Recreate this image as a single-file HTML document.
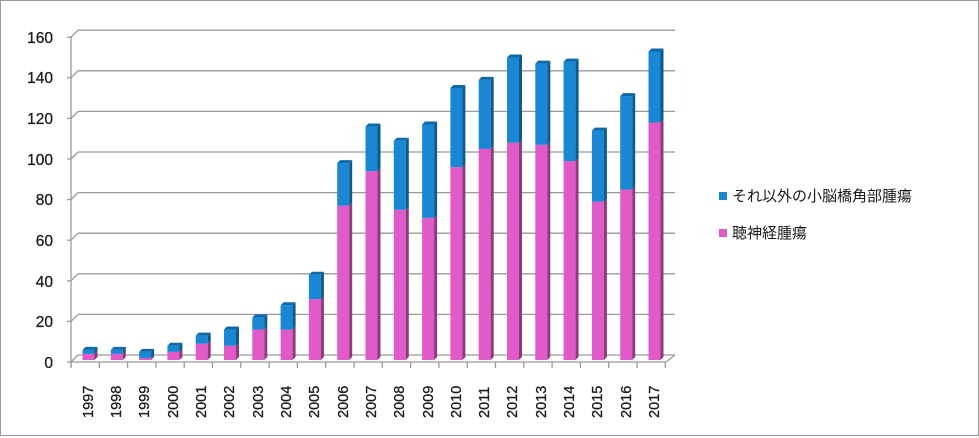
<!DOCTYPE html>
<html><head><meta charset="utf-8"><style>
body{margin:0;background:#fff}
svg{display:block}
text{font-family:"Liberation Sans","Noto Sans CJK JP",sans-serif;fill:#1a1a1a}
</style></head><body>
<svg id="s" width="979" height="438" xmlns="http://www.w3.org/2000/svg">
<rect x="0.5" y="0.5" width="978" height="435" fill="#fff" stroke="#9a9a9a"/>
<g id="grid" stroke="#9a9a9a" stroke-width="1.3" fill="none"></g>
<g id="bars"></g>
<g font-size="15.5" text-anchor="end" stroke="#1a1a1a" stroke-width="0.3">
<text x="53" y="43">160</text><text x="53" y="83">140</text><text x="53" y="124">120</text>
<text x="53" y="165">100</text><text x="53" y="205">80</text><text x="53" y="246">60</text>
<text x="53" y="287">40</text><text x="53" y="327">20</text><text x="53" y="368">0</text>
</g>
<g font-size="14.5" id="xl" stroke="#1a1a1a" stroke-width="0.3">
<text transform="translate(93,418) rotate(-90)">1997</text>
<text transform="translate(121,418) rotate(-90)">1998</text>
<text transform="translate(149,418) rotate(-90)">1999</text>
<text transform="translate(178,418) rotate(-90)">2000</text>
<text transform="translate(206,418) rotate(-90)">2001</text>
<text transform="translate(234,418) rotate(-90)">2002</text>
<text transform="translate(263,418) rotate(-90)">2003</text>
<text transform="translate(291,418) rotate(-90)">2004</text>
<text transform="translate(319,418) rotate(-90)">2005</text>
<text transform="translate(348,418) rotate(-90)">2006</text>
<text transform="translate(376,418) rotate(-90)">2007</text>
<text transform="translate(404,418) rotate(-90)">2008</text>
<text transform="translate(433,418) rotate(-90)">2009</text>
<text transform="translate(461,418) rotate(-90)">2010</text>
<text transform="translate(489,418) rotate(-90)">2011</text>
<text transform="translate(517,418) rotate(-90)">2012</text>
<text transform="translate(546,418) rotate(-90)">2013</text>
<text transform="translate(574,418) rotate(-90)">2014</text>
<text transform="translate(602,418) rotate(-90)">2015</text>
<text transform="translate(631,418) rotate(-90)">2016</text>
<text transform="translate(659,418) rotate(-90)">2017</text>
</g>
<rect x="719" y="192" width="8" height="8" fill="#1a87d4"/>
<text x="732" y="201" font-size="15">それ以外の小脳橋角部腫瘍</text>
<rect x="719" y="229" width="8" height="8" fill="#e05ac8"/>
<text x="732" y="238" font-size="15">聴神経腫瘍</text>
</svg>
<script>
var NS="http://www.w3.org/2000/svg";
function el(p,t,a){var e=document.createElementNS(NS,t);for(var k in a)e.setAttribute(k,a[k]);p.appendChild(e);return e;}
var g=document.getElementById('grid');
for(var k=0;k<=8;k++){var y=355-40.6*k;
 el(g,'line',{x1:78,y1:y,x2:675,y2:y});
 el(g,'line',{x1:71,y1:y+7,x2:78,y2:y});
 el(g,'line',{x1:67,y1:y+7,x2:71,y2:y+7});}
el(g,'line',{x1:71,y1:36,x2:71,y2:367});
el(g,'line',{x1:71,y1:362,x2:666,y2:362});
el(g,'line',{x1:666,y1:362,x2:675,y2:355});
for(var i=0;i<=21;i++){var x=71+28.3*i;el(g,'line',{x1:x,y1:362,x2:x,y2:368});}
var d=[[3,5],[3,5],[1,4],[4,7],[8,12],[7,15],[15,21],[15,27],[30,42],[76,97],[93,115],[74,108],[70,116],[95,134],[104,138],[107,149],[106,146],[98,147],[78,113],[84,130],[117,152]];
var b=document.getElementById('bars'),s=2.03,base=360,w=12,dp=3;
d.forEach(function(v,i){var cx=88.5+28.3*i,x=cx-w/2;
 var yp=base-v[0]*s,yt=base-v[1]*s;
 el(b,'rect',{x:x,y:yp,width:w,height:base-yp,fill:'#e05ac8'});
 el(b,'polygon',{points:[x+w,base,x+w+dp,base-dp,x+w+dp,yp-dp,x+w,yp].join(' '),fill:'#8e3a7e'});
 el(b,'rect',{x:x,y:yt,width:w,height:yp-yt,fill:'#1a87d4'});
 el(b,'polygon',{points:[x+w,yp,x+w+dp,yp-dp,x+w+dp,yt-dp,x+w,yt].join(' '),fill:'#0f5a8c'});
 el(b,'polygon',{points:[x,yt,x+dp,yt-dp,x+w+dp,yt-dp,x+w,yt].join(' '),fill:'#0d6aa8'});
});
</script>
</body></html>
